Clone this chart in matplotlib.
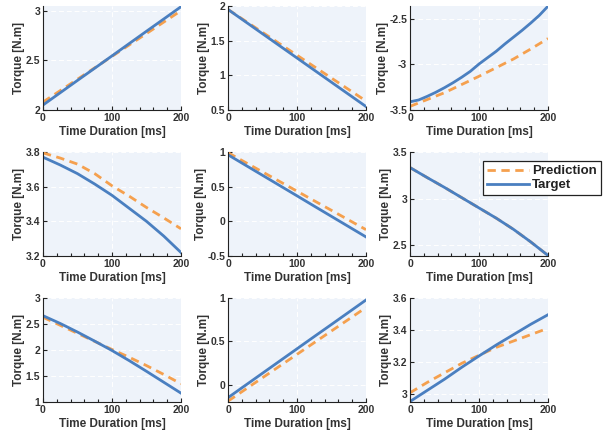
import numpy as np
import matplotlib
matplotlib.use("Agg")
import matplotlib.pyplot as plt
from matplotlib.ticker import MultipleLocator, FormatStrFormatter

plt.rcParams['font.family'] = ['Liberation Sans', 'DejaVu Sans']
plt.rcParams['axes.unicode_minus'] = False

# time axis [ms]
t = [0, 25, 50, 75, 100, 125, 150, 175, 200]
t_fine = [0, 12.5, 25, 37.5, 50, 62.5, 75, 87.5, 100, 112.5, 125, 137.5, 150, 162.5, 175, 187.5, 200]

# panel data (target / prediction), row by row
tgt1 = [2.05, 2.174, 2.298, 2.421, 2.545, 2.669, 2.793, 2.916, 3.04]
pred1 = [2.08, 2.195, 2.31, 2.425, 2.54, 2.655, 2.77, 2.885, 3.0]
tgt2 = [1.95, 1.775, 1.60, 1.425, 1.25, 1.075, 0.90, 0.725, 0.55]
pred2 = [1.95, 1.785, 1.62, 1.455, 1.29, 1.125, 0.96, 0.795, 0.63]
tgt3 = [-3.41, -3.39, -3.35, -3.305, -3.255, -3.2, -3.14, -3.075, -2.995,
        -2.925, -2.855, -2.775, -2.70, -2.625, -2.545, -2.46, -2.36]
pred3 = [-3.46, -3.385, -3.31, -3.22, -3.13, -3.035, -2.94, -2.83, -2.715]
tgt4 = [3.77, 3.725, 3.675, 3.615, 3.55, 3.475, 3.40, 3.315, 3.22]
pred4 = [3.795, 3.765, 3.73, 3.675, 3.605, 3.545, 3.48, 3.42, 3.357]
tgt5 = [0.96, 0.812, 0.664, 0.516, 0.368, 0.219, 0.071, -0.077, -0.225]
pred5 = [0.99, 0.851, 0.713, 0.574, 0.435, 0.296, 0.158, 0.019, -0.12]
tgt6 = [3.333, 3.225, 3.12, 3.01, 2.90, 2.79, 2.67, 2.535, 2.39]
pred6 = [3.333, 3.225, 3.12, 3.01, 2.90, 2.79, 2.67, 2.535, 2.39]
tgt7 = [2.66, 2.51, 2.345, 2.17, 1.99, 1.795, 1.59, 1.38, 1.17]
pred7 = [2.63, 2.475, 2.32, 2.165, 2.01, 1.86, 1.70, 1.53, 1.35]
tgt8 = [-0.15, -0.009, 0.132, 0.273, 0.414, 0.555, 0.695, 0.836, 0.977]
pred8 = [-0.19, -0.055, 0.08, 0.215, 0.35, 0.485, 0.62, 0.755, 0.89]
tgt9 = [2.95, 3.02, 3.09, 3.165, 3.236, 3.305, 3.37, 3.435, 3.495]
pred9 = [3.005, 3.07, 3.13, 3.19, 3.24, 3.29, 3.33, 3.37, 3.41]

targets = [(t, tgt1), (t, tgt2), (t_fine, tgt3), (t, tgt4), (t, tgt5), (t, tgt6),
           (t, tgt7), (t, tgt8), (t, tgt9)]
preds = [pred1, pred2, pred3, pred4, pred5, pred6, pred7, pred8, pred9]

ylims = [(2, 3.047), (0.5, 2), (-3.5, -2.358), (3.2, 3.8), (-0.5, 1), (2.384, 3.5),
         (1, 3), (-0.2, 1), (2.947, 3.6)]
yticks = [[2, 2.5, 3], [0.5, 1, 1.5, 2], [-3.5, -3, -2.5], [3.2, 3.4, 3.6, 3.8],
          [-0.5, 0, 0.5, 1], [2.5, 3, 3.5], [1, 1.5, 2, 2.5, 3], [0, 0.5, 1],
          [3, 3.2, 3.4, 3.6]]

blue = '#4a7fc0'
orange = '#f5a04e'
bg = '#eef3fa'
txt = '#333333'

fig = plt.figure(figsize=(6.09, 4.34), dpi=100)
lefts = [43 / 609, 228 / 609, 410 / 609]
bottoms = [1 - 110 / 434, 1 - 256 / 434, 1 - 402 / 434]
w = 138 / 609
h = 104 / 434

for i in range(9):
    r, c = divmod(i, 3)
    ax = fig.add_axes([lefts[c], bottoms[r], w, h])
    ax.set_facecolor(bg)
    ax.plot(t, preds[i], color=orange, lw=2, ls=(0, (3, 2)), label='Prediction')
    ax.plot(targets[i][0], targets[i][1], color=blue, lw=2, label='Target')
    ax.set_xlim(0, 200)
    ax.set_ylim(*ylims[i])
    ax.set_xticks([0, 100, 200])
    ax.set_yticks(yticks[i])
    ax.xaxis.set_minor_locator(MultipleLocator(20))
    ax.yaxis.set_major_formatter(FormatStrFormatter('%g'))
    ax.grid(True, color='white', ls=(0, (5, 3)), lw=0.7)
    ax.set_axisbelow(True)
    for s in ['top', 'right']:
        ax.spines[s].set_visible(False)
    for s in ['left', 'bottom']:
        ax.spines[s].set_color('#222222')
        ax.spines[s].set_linewidth(0.8)
    ax.tick_params(which='both', direction='in', colors='#222222', labelcolor=txt,
                   labelsize=7.5, width=0.8)
    ax.tick_params(which='major', length=3, pad=2)
    ax.tick_params(which='minor', length=2)
    for lab in ax.get_xticklabels() + ax.get_yticklabels():
        lab.set_fontweight('bold')
    ax.set_xlabel('Time Duration [ms]', fontsize=8.5, fontweight='bold', color=txt, labelpad=2)
    ax.set_ylabel('Torque [N.m]', fontsize=8.5, fontweight='bold', color=txt, labelpad=0.5)
    if i == 5:
        handles, labels = ax.get_legend_handles_labels()

leg = fig.legend(handles, labels, loc='upper left', bbox_to_anchor=(483 / 609, 1 - 161 / 434),
                 borderaxespad=0, fancybox=False, edgecolor='#222222', framealpha=1,
                 handlelength=3.2, borderpad=0.3, labelspacing=0.15, handletextpad=0.2,
                 prop={'weight': 'bold', 'size': 9.5})
leg.get_frame().set_linewidth(0.9)
for tx in leg.get_texts():
    tx.set_color('#222222')

fig.savefig('out.png', dpi=100)
